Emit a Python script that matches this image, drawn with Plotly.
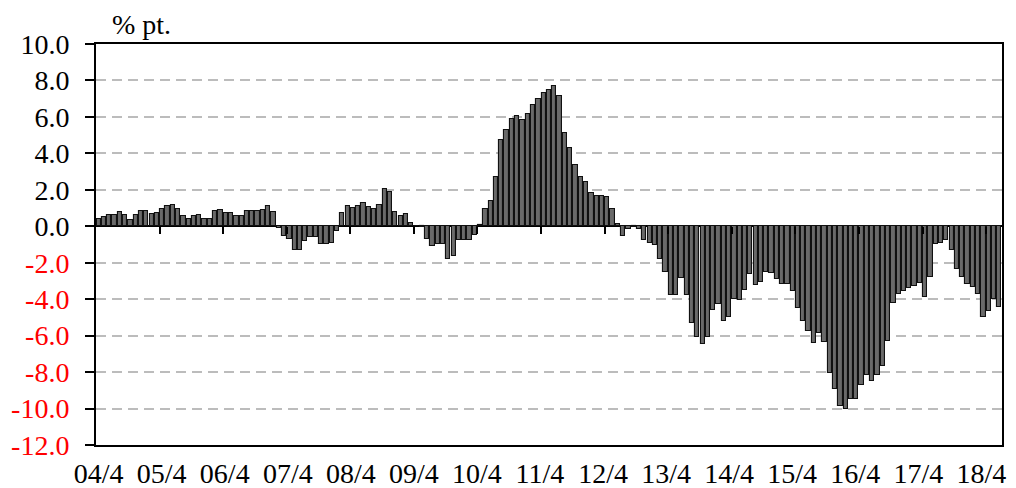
import plotly.graph_objects as go

# Fiscal-year start labels (April of each year)
year_labels = ["04/4", "05/4", "06/4", "07/4", "08/4", "09/4", "10/4", "11/4",
               "12/4", "13/4", "14/4", "15/4", "16/4", "17/4", "18/4"]

# Monthly values (% pt.), each list = April .. March of the following year
v2004 = [0.40, 0.51, 0.62, 0.62, 0.77, 0.60, 0.33, 0.62, 0.84, 0.84, 0.69, 0.73]
v2005 = [0.97, 1.13, 1.15, 0.97, 0.55, 0.42, 0.55, 0.60, 0.42, 0.42, 0.84, 0.92]
v2006 = [0.72, 0.74, 0.57, 0.57, 0.83, 0.83, 0.83, 0.88, 1.13, 0.76, -0.10, -0.53]
v2007 = [-0.70, -1.30, -1.32, -0.82, -0.58, -0.58, -0.97, -0.96, -0.91, -0.24, 0.74, 1.10]
v2008 = [1.02, 1.11, 1.28, 1.07, 0.94, 1.17, 2.06, 1.87, 0.80, 0.59, 0.65, 0.17]
v2009 = [0.00, -0.05, -0.68, -1.10, -0.99, -0.99, -1.78, -1.62, -0.77, -0.77, -0.74, -0.49]
v2010 = [0.05, 0.97, 1.41, 2.71, 4.72, 5.27, 5.90, 6.07, 5.85, 6.18, 6.63, 6.98]
v2011 = [7.32, 7.45, 7.68, 7.17, 5.11, 4.29, 3.36, 2.68, 2.43, 1.84, 1.68, 1.68]
v2012 = [1.61, 0.93, 0.15, -0.53, -0.16, -0.05, -0.13, -0.75, -0.90, -1.00, -1.82, -2.49]
v2013 = [-3.76, -3.76, -2.85, -3.76, -5.29, -6.05, -6.47, -6.07, -4.61, -4.26, -5.20, -4.97]
v2014 = [-3.97, -4.03, -3.52, -2.62, -3.20, -3.04, -2.49, -2.58, -2.90, -3.15, -3.15, -3.55]
v2015 = [-4.51, -5.22, -5.76, -6.40, -5.85, -6.33, -8.05, -8.91, -9.85, -10.04, -9.45, -9.45]
v2016 = [-8.73, -8.15, -8.50, -8.15, -7.67, -6.27, -4.23, -3.72, -3.57, -3.39, -3.26, -3.11]
v2017 = [-3.90, -2.80, -0.98, -0.94, -0.74, -1.31, -2.35, -2.77, -3.17, -3.31, -3.72, -4.96]
v2018 = [-4.63, -3.99, -4.41]

y_ticks = [-12, -10, -8, -6, -4, -2, 0, 2, 4, 6, 8, 10]

values = (v2004 + v2005 + v2006 + v2007 + v2008 + v2009 + v2010 + v2011 +
          v2012 + v2013 + v2014 + v2015 + v2016 + v2017 + v2018)
n = len(values)
x_pos = [i + 0.5 for i in range(n)]

FONT = "Liberation Serif"
FS = 28

fig = go.Figure()
fig.add_trace(go.Bar(
    x=x_pos, y=values, width=0.8,
    marker=dict(color="#6a6a6a", line=dict(color="#111111", width=1.1)),
    showlegend=False, hoverinfo="skip",
))

tick_text = []
for v in y_ticks:
    s = f"{v:.1f}"
    if v < 0:
        tick_text.append(f'<span style="color:#ff0000">{s}</span>')
    else:
        tick_text.append(s)

label_pos = [12 * k + 0.5 - 0.1 * k for k in range(len(year_labels))]

# page body adds an 8px offset; margins below compensate for it
fig.update_layout(
    width=1008, height=480, autosize=False,
    margin=dict(l=88, r=14, t=36, b=43, pad=0),
    paper_bgcolor="white", plot_bgcolor="white",
    font=dict(family=FONT, size=FS, color="black"),
    bargap=0,
    xaxis=dict(
        range=[0, n], showline=True, linecolor="black", linewidth=2, mirror=True,
        ticks="", tickvals=label_pos, ticktext=year_labels,
        tickfont=dict(family=FONT, size=FS, color="black"),
        showgrid=False, zeroline=False, ticklabeloverflow="allow",
        ticklabelstandoff=2, automargin=False,
    ),
    xaxis2=dict(
        overlaying="x", anchor="free", position=12 / 22, range=[0, n],
        ticks="outside", ticklen=7, tickwidth=2, tickcolor="black",
        tickvals=[12 * k for k in range(1, len(year_labels))],
        showticklabels=False, showline=False, showgrid=False, zeroline=False,
        automargin=False,
    ),
    yaxis=dict(
        range=[-12, 10], tickvals=y_ticks, ticktext=tick_text,
        ticks="outside", ticklen=9, tickwidth=2, tickcolor="black",
        tickfont=dict(family=FONT, size=FS, color="black"),
        showline=True, linecolor="black", linewidth=2, mirror=True,
        showgrid=True, gridcolor="#bcbcbc", gridwidth=1.6, griddash="10px,6px",
        zeroline=True, zerolinecolor="black", zerolinewidth=2,
        ticklabelstandoff=10, automargin=False,
    ),
    annotations=[dict(
        text="% pt.", xref="paper", yref="paper", x=0.016, y=1.0,
        xanchor="left", yanchor="bottom", showarrow=False, yshift=2,
        font=dict(family=FONT, size=FS, color="black"),
    )],
)

fig.add_trace(go.Scatter(x=[], y=[], xaxis="x2", showlegend=False))

fig.write_html("out.html")
